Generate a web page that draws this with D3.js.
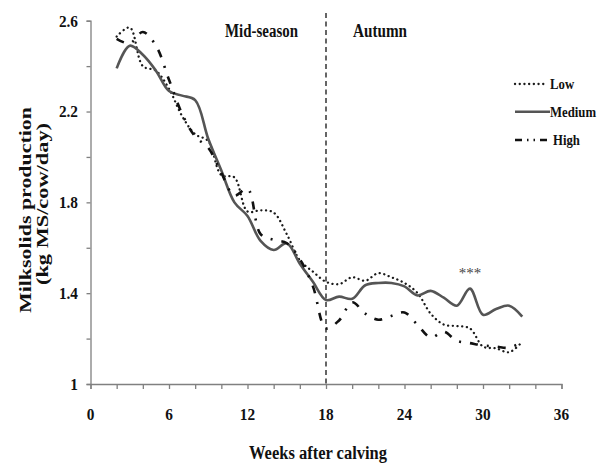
<!DOCTYPE html>
<html><head><meta charset="utf-8">
<script src="https://cdn.jsdelivr.net/npm/d3@7/dist/d3.min.js"></script>
<style>body{margin:0;background:#fff} svg{display:block} text{font-family:"Liberation Serif","Times New Roman",serif;font-weight:bold;fill:#111}</style>
</head><body>
<svg id="c" width="613" height="465"></svg>
<script>
// ---- data ----
const weeks  = [2,3,4,5,6,7,8,9,10,11,12,13,14,15,16,17,18,19,20,21,22,23,24,25,26,27,28,29,30,31,32,33];
const low    = [2.53,2.57,2.40,2.38,2.30,2.18,2.10,2.07,1.92,1.91,1.76,1.765,1.755,1.66,1.545,1.495,1.45,1.44,1.47,1.455,1.488,1.47,1.445,1.40,1.31,1.262,1.255,1.245,1.165,1.157,1.14,1.186];
const medium = [2.39,2.49,2.45,2.38,2.29,2.27,2.25,2.08,1.94,1.80,1.74,1.63,1.59,1.62,1.53,1.45,1.37,1.385,1.375,1.435,1.445,1.445,1.43,1.39,1.41,1.38,1.345,1.42,1.305,1.33,1.345,1.297];
const high   = [2.52,2.50,2.55,2.49,2.34,2.19,2.09,2.04,1.93,1.83,1.86,1.66,1.635,1.62,1.55,1.43,1.245,1.28,1.36,1.31,1.283,1.30,1.315,1.26,1.205,1.23,1.19,1.18,1.17,1.165,1.16,1.186];
const seriesNames = ["Low","Medium","High"];
const xTickLabels = [0,6,12,18,24,30,36];
const xMinorTicks = [0,2,4,6,8,10,12,14,16,18,20,22,24,26,28,30,32,34,36];
const yTickLabels = [1,1.4,1.8,2.2,2.6];
const yMinorTicks = [1,1.2,1.4,1.6,1.8,2.0,2.2,2.4,2.6];
const seasonSplit = 18;
const seasonLabels = ["Mid-season","Autumn"];
const sigWeek = 29, sigValue = 1.5, sigText = "***";
const xTitle = "Weeks after calving";
const yTitle = ["Milksolids production","(kg MS/cow/day)"];

// ---- layout ----
const svg = d3.select("#c");
const x = d3.scaleLinear().domain([0,36]).range([90.5,561.5]);
const y = d3.scaleLinear().domain([1,2.6]).range([384,20.7]);
const AX = "#808080";

function squeeze(sel,k){ sel.each(function(){ const w=this.getComputedTextLength(); this.setAttribute("textLength",w*k); this.setAttribute("lengthAdjust","spacingAndGlyphs"); }); }

// y axis
const gy = svg.append("g").attr("transform",`translate(${x(0)},0)`)
  .call(d3.axisLeft(y).tickValues(yMinorTicks).tickSize(4).tickFormat(""));
gy.selectAll("path,line").attr("stroke",AX).attr("stroke-width",1.3);
const yl = svg.append("g").selectAll("text").data(yTickLabels).join("text")
  .attr("x",78).attr("y",d=>y(d)).attr("dy","0.35em").attr("text-anchor","end")
  .style("font-size","17px").text(d=>d);
squeeze(yl,0.9);

// x axis
const gx = svg.append("g").attr("transform",`translate(0,${y(1)})`)
  .call(d3.axisBottom(x).tickValues(xMinorTicks).tickSize(5).tickFormat(""));
gx.selectAll("path,line").attr("stroke",AX).attr("stroke-width",1.3);
const xl = svg.append("g").selectAll("text").data(xTickLabels).join("text")
  .attr("x",d=>x(d)).attr("y",414).attr("dy","0.35em").attr("text-anchor","middle")
  .style("font-size","17px").text(d=>d);
squeeze(xl,0.9);

// titles
const xt = svg.append("text").attr("x",318).attr("y",459).attr("text-anchor","middle").style("font-size","18px").text(xTitle);
xt.attr("textLength",138).attr("lengthAdjust","spacingAndGlyphs");
svg.append("text").attr("transform","translate(31,210) rotate(-90)").attr("text-anchor","middle")
  .style("font-size","16px").attr("textLength",206).attr("lengthAdjust","spacingAndGlyphs").text(yTitle[0]);
svg.append("text").attr("transform","translate(48,204) rotate(-90)").attr("text-anchor","middle")
  .style("font-size","16px").attr("textLength",162).attr("lengthAdjust","spacingAndGlyphs").text(yTitle[1]);

// season divider
svg.append("line").attr("x1",x(seasonSplit)).attr("x2",x(seasonSplit)).attr("y1",13).attr("y2",y(1))
  .attr("stroke","#333").attr("stroke-width",1.5).attr("stroke-dasharray","5,3.5");
const s1 = svg.append("text").attr("x",225).attr("y",37).style("font-size","18px").text(seasonLabels[0]);
s1.attr("textLength",73).attr("lengthAdjust","spacingAndGlyphs");
const s2 = svg.append("text").attr("x",353).attr("y",37).style("font-size","18px").text(seasonLabels[1]);
s2.attr("textLength",54).attr("lengthAdjust","spacingAndGlyphs");

// lines
const styles = [
  {color:"#1a1a1a", width:2.3, dash:"0.1,4.6", cap:"round"},
  {color:"#555555", width:2.6, dash:null, cap:"butt"},
  {color:"#111111", width:2.6, dash:"8,9,2,9", cap:"butt"}
];
const seriesVals = [low, medium, high];
const line = d3.line().x(d=>x(d[0])).y(d=>y(d[1])).curve(d3.curveCatmullRom.alpha(0.5));
seriesVals.forEach((vals,i)=>{
  const st = styles[i];
  svg.append("path").datum(weeks.map((w,j)=>[w,vals[j]])).attr("d",line)
    .attr("fill","none").attr("stroke",st.color).attr("stroke-width",st.width)
    .attr("stroke-linecap",st.cap).attr("stroke-dasharray",st.dash);
});

// significance
svg.append("text").attr("x",x(sigWeek)).attr("y",y(sigValue)).attr("dy","0.5em").attr("text-anchor","middle")
  .style("font-size","15px").style("font-weight","normal").style("fill","#444").text(sigText);

// legend
const legY = [84,111.7,140];
const legDash = ["0.1,4.6", null, "7,5,1.5,5,1.5,5"];
seriesNames.forEach((n,i)=>{
  const st = styles[i];
  svg.append("line").attr("x1",515).attr("x2",i===0?546:550).attr("y1",legY[i]).attr("y2",legY[i])
    .attr("stroke",st.color).attr("stroke-width",st.width).attr("stroke-linecap",st.cap)
    .attr("stroke-dasharray",legDash[i]);
  const t = svg.append("text").attr("x",i===0?550:(i===1?550:553)).attr("y",legY[i]).attr("dy","0.35em")
    .style("font-size","15px").text(n);
  squeeze(t,0.85);
});
</script>
</body></html>
